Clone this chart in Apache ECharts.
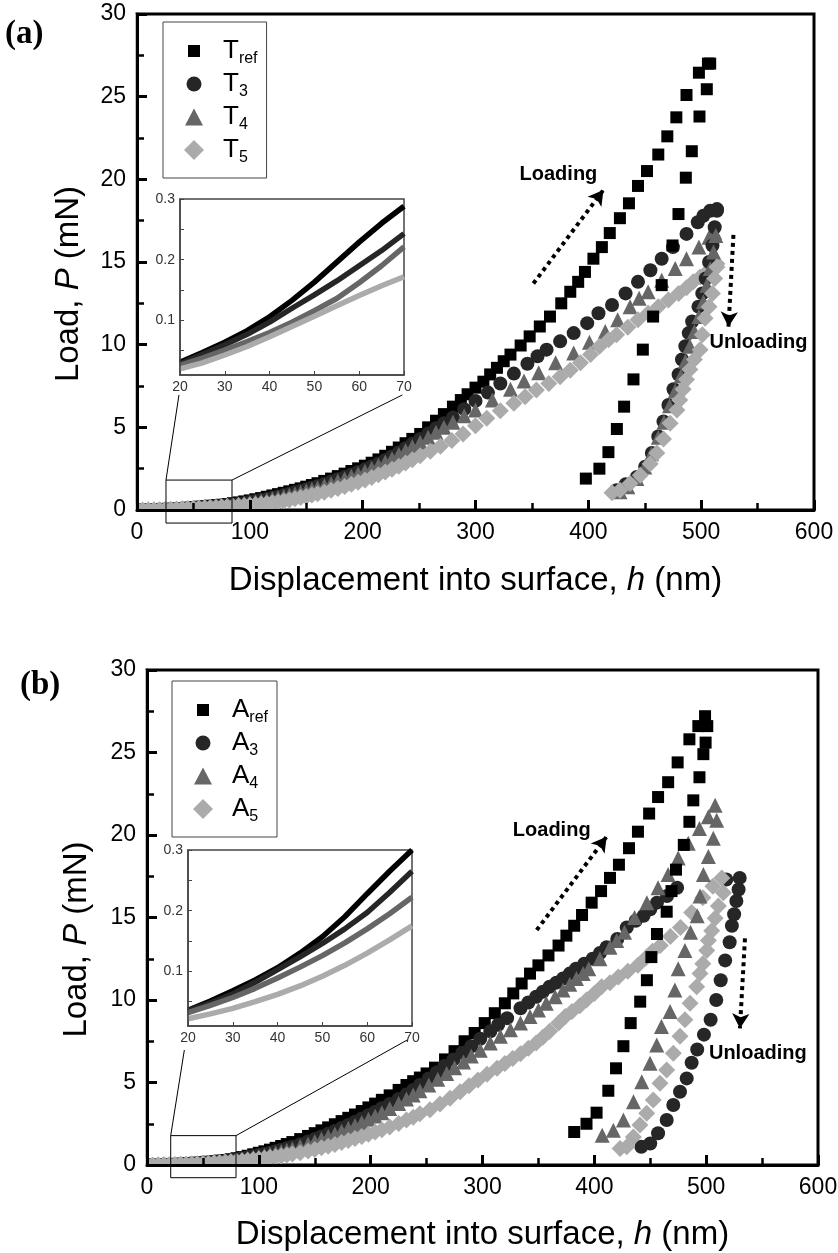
<!DOCTYPE html>
<html>
<head>
<meta charset="utf-8">
<script src="https://cdn.jsdelivr.net/npm/echarts@6/dist/echarts.min.js"></script>
<style>html,body{margin:0;padding:0;background:#fff}#c{width:838px;height:1253px}</style>
</head>
<body>
<div id="c"></div>
<script>
// ---------- Panel (a): T series, [h (nm), P (mN)] ----------
const tRefLoad = [[0,0],[5,0.006],[10,0.013],[15,0.021],[20,0.031],[25,0.047],[30,0.064],[35,0.082],[40,0.103],[45,0.133],[50,0.166],[55,0.2],[60,0.234],[65,0.262],[70,0.288],[75,0.32],[80,0.36],[85,0.41],[90,0.46],[95,0.52],[100,0.58],[105,0.65],[110,0.72],[115,0.8],[120,0.88],[125,0.96],[130,1.04],[135,1.13],[140,1.22],[145,1.31],[150,1.41],[155,1.51],[160,1.62],[166,1.76],[172,1.9],[178,2.05],[184,2.2],[190,2.36],[196,2.52],[202,2.68],[208,2.86],[214,3.06],[220,3.28],[226,3.52],[232,3.78],[238,4.04],[244,4.3],[251,4.6],[258,5.0],[265,5.4],[272,5.8],[280,6.25],[287,6.65],[293,7.0],[300,7.4],[307,7.76],[313,8.2],[319,8.6],[325,9.0],[331,9.4],[340,9.95],[348,10.5],[357,11.1],[366,11.7],[376,12.5],[384,13.2],[391,13.8],[397,14.4],[404.5,15.2],[412,15.9],[419,16.75],[428,17.65],[436,18.55],[444,19.6],[452,20.5],[462,21.5],[470,22.6],[478,23.75],[487,25.1],[498,26.45],[506,27.0]];
const tRefUnload = [[508,27.0],[505,25.45],[498.5,23.8],[491.7,21.7],[486.4,20.1],[479.9,17.9],[474.6,16.0],[465,13.6],[457.4,11.7],[448.3,9.7],[440,7.9],[431.7,6.25],[425.3,4.9],[417.8,3.5],[409.8,2.5],[397.8,1.9]];
const t3Load = [[0,0],[5,0.005],[10,0.011],[15,0.019],[20,0.028],[25,0.044],[30,0.06],[35,0.077],[40,0.097],[45,0.12],[50,0.142],[55,0.165],[60,0.19],[65,0.215],[70,0.243],[75,0.27],[80,0.3],[85,0.34],[90,0.38],[95,0.43],[100,0.48],[105,0.54],[110,0.6],[115,0.67],[120,0.74],[125,0.82],[130,0.9],[135,0.98],[140,1.07],[145,1.16],[150,1.25],[155,1.35],[160,1.45],[166,1.58],[172,1.72],[178,1.86],[184,2.0],[190,2.15],[196,2.3],[202,2.46],[208,2.63],[214,2.82],[220,3.02],[226,3.24],[232,3.48],[238,3.74],[244,4.0],[251,4.3],[258,4.62],[265,4.95],[272,5.25],[280,5.6],[290,6.1],[300,6.6],[311,7.1],[322,7.65],[334,8.25],[346,8.85],[355,9.3],[363,9.7],[375,10.2],[387,10.7],[399,11.3],[409,11.9],[421,12.4],[433,13.1],[444,13.8],[455,14.5],[465,15.2],[475,15.9],[487,16.7],[497,17.4],[502,17.8],[508,18.1],[514,18.2]];
const t3Unload = [[514,18.1],[512,17.1],[510,16.0],[507,15.0],[504,14.0],[501,13.1],[497.6,12.3],[492,11.4],[489,10.7],[486,9.9],[483,9.1],[480,8.2],[475.5,7.3],[471,6.35],[466.6,5.35],[462,4.45],[456.3,3.45],[450.4,2.62],[443,2.0],[433,1.55],[425,1.2]];
const t4Load = [[0,0],[5,0.005],[10,0.01],[15,0.017],[20,0.026],[25,0.038],[30,0.051],[35,0.065],[40,0.08],[45,0.097],[50,0.116],[55,0.136],[60,0.162],[65,0.19],[70,0.221],[75,0.25],[80,0.28],[85,0.32],[90,0.36],[95,0.4],[100,0.45],[105,0.5],[110,0.56],[115,0.62],[120,0.69],[125,0.76],[130,0.83],[135,0.91],[140,0.99],[145,1.07],[150,1.16],[155,1.25],[160,1.35],[166,1.48],[172,1.61],[178,1.75],[184,1.89],[190,2.04],[196,2.19],[202,2.35],[208,2.52],[214,2.7],[220,2.9],[226,3.12],[232,3.36],[238,3.6],[244,3.84],[251,4.1],[258,4.4],[265,4.7],[272,5.0],[280,5.3],[290,5.7],[300,6.05],[315,6.65],[331,7.3],[343,7.8],[356,8.3],[371,8.9],[387,9.5],[401,10.15],[415,10.8],[426,11.5],[437,12.3],[445,12.8],[453,13.2],[465,13.9],[477,14.6],[487,15.2],[498,15.9],[507,16.5],[512,16.8]];
const t4Unload = [[513,16.6],[511,15.6],[508,14.6],[505,13.6],[502,12.6],[498,11.7],[494,10.8],[490,9.9],[486,9.0],[482,8.1],[477,7.2],[472,6.3],[467,5.3],[462,4.4],[456,3.4],[450,2.6],[443,1.9],[435,1.4],[428,1.1]];
const t5Load = [[0,0],[5,0.004],[10,0.008],[15,0.013],[20,0.02],[25,0.03],[30,0.044],[35,0.058],[40,0.074],[45,0.092],[50,0.11],[55,0.126],[60,0.142],[65,0.157],[70,0.172],[75,0.19],[80,0.21],[85,0.23],[90,0.25],[95,0.275],[100,0.3],[105,0.33],[110,0.36],[115,0.4],[120,0.44],[125,0.49],[130,0.55],[135,0.61],[140,0.68],[145,0.75],[150,0.82],[155,0.9],[160,0.98],[166,1.08],[172,1.19],[178,1.3],[184,1.42],[190,1.55],[196,1.68],[202,1.82],[208,1.97],[214,2.13],[220,2.3],[226,2.47],[232,2.65],[238,2.84],[244,3.04],[251,3.28],[260,3.55],[269,3.85],[279,4.2],[289,4.6],[300,5.1],[310,5.55],[322,6.0],[334,6.45],[344,6.85],[354,7.26],[365,7.65],[375,8.06],[384,8.45],[393,8.9],[402,9.4],[410,9.9],[418,10.3],[425,10.6],[435,11.05],[444,11.5],[453,11.9],[462,12.3],[471,12.7],[480,13.1],[487,13.45],[493,13.8],[499,14.1],[505,14.4],[510,14.7],[514,14.9]];
const t5Unload = [[514,14.7],[512,14.0],[510,13.1],[507,12.3],[503.5,11.6],[501,10.6],[499,9.7],[494,9.1],[490,8.5],[487,7.9],[484,7.3],[481,6.65],[478.5,6.05],[472.5,5.25],[466.6,4.3],[460.7,3.45],[454.8,2.8],[446,2.1],[437,1.6],[428,1.2],[421,1.05]];

// ---------- Panel (b): A series ----------
const aRefLoad = [[0,0],[5,0.007],[10,0.015],[15,0.024],[20,0.036],[25,0.051],[30,0.068],[35,0.086],[40,0.106],[45,0.13],[50,0.157],[55,0.19],[60,0.228],[65,0.265],[70,0.3],[75,0.35],[80,0.41],[85,0.48],[90,0.56],[95,0.65],[100,0.74],[105,0.83],[110,0.93],[115,1.04],[120,1.15],[125,1.27],[130,1.39],[137,1.57],[144,1.76],[150,1.93],[156,2.1],[162,2.28],[168,2.47],[174,2.66],[180,2.86],[186,3.06],[192,3.27],[198,3.49],[204,3.72],[210,3.95],[217,4.22],[225,4.55],[232,4.85],[238,5.08],[244,5.3],[250,5.55],[257.5,5.9],[266.5,6.4],[275,6.9],[284,7.5],[293,8.0],[302,8.6],[311,9.2],[320,9.8],[327.5,10.4],[335,11.0],[342.5,11.6],[350,12.1],[359,12.7],[368,13.3],[375,13.9],[382,14.5],[389,15.15],[397.6,15.9],[406,16.6],[414,17.4],[422,18.2],[431,19.2],[439,20.2],[449,21.3],[457,22.3],[466,23.2],[474.5,24.4],[485,25.8],[493,26.6],[499,27.2]];
const aRefUnload = [[501,26.6],[499.5,25.6],[497.5,24.9],[494,23.5],[488.5,22.1],[485,20.8],[480,19.4],[473,17.9],[469,16.6],[464.7,15.35],[456,14.0],[451,12.6],[447,11.2],[441,9.9],[432.5,8.6],[426,7.2],[419.4,5.86],[412.5,4.5],[402,3.17],[393,2.5],[382,2.0]];
const a3Load = [[0,0],[5,0.006],[10,0.014],[15,0.023],[20,0.035],[25,0.048],[30,0.063],[35,0.082],[40,0.103],[45,0.124],[50,0.146],[55,0.17],[60,0.197],[65,0.23],[70,0.265],[75,0.31],[80,0.36],[85,0.41],[90,0.47],[95,0.53],[100,0.6],[105,0.67],[110,0.75],[115,0.83],[120,0.92],[125,1.01],[130,1.11],[137,1.26],[144,1.42],[150,1.57],[156,1.73],[162,1.89],[168,2.06],[174,2.24],[180,2.43],[186,2.62],[192,2.82],[198,3.02],[204,3.23],[210,3.44],[217,3.7],[225,4.0],[232,4.28],[238,4.55],[244,4.85],[252,5.25],[259,5.6],[266,6.0],[274,6.4],[282,6.8],[290,7.2],[298,7.65],[307,8.1],[314,8.5],[322,8.9],[334,9.5],[341,9.85],[348,10.2],[354,10.5],[360,10.8],[366,11.05],[372,11.3],[378,11.6],[383.6,11.9],[391,12.2],[398.5,12.5],[405,12.85],[411,13.2],[420.5,13.7],[429,14.4],[437,14.8],[444,15.1],[450,15.5],[456,15.9],[465,16.3],[474,16.8],[518,17.3],[530,17.4]];
const a3Unload = [[529,16.7],[527,16.0],[525,15.2],[523,14.5],[521,13.5],[517,12.4],[513,11.2],[509,10.0],[504,8.8],[498,7.9],[492,7.0],[487,6.2],[482.6,5.25],[476.6,4.44],[470.6,3.64],[464.7,2.73],[457,1.92],[450,1.3],[442,1.1]];
const a4Load = [[0,0],[5,0.006],[10,0.013],[15,0.021],[20,0.032],[25,0.044],[30,0.057],[35,0.072],[40,0.089],[45,0.107],[50,0.126],[55,0.147],[60,0.17],[65,0.195],[70,0.222],[75,0.26],[80,0.3],[85,0.35],[90,0.4],[95,0.46],[100,0.52],[105,0.59],[110,0.66],[115,0.74],[120,0.82],[125,0.9],[130,0.99],[137,1.13],[144,1.28],[150,1.42],[156,1.57],[162,1.72],[168,1.88],[174,2.05],[180,2.22],[186,2.4],[192,2.58],[198,2.77],[204,2.97],[210,3.17],[217,3.42],[225,3.72],[232,4.0],[238,4.25],[244,4.5],[252,4.85],[260,5.2],[268,5.55],[275,5.9],[283,6.25],[290,6.6],[298,6.95],[307,7.4],[316,7.8],[325,8.2],[334,8.6],[342.5,9.0],[350,9.4],[357,9.8],[365,10.2],[372,10.6],[378,10.95],[384,11.3],[390,11.6],[395,11.9],[405,12.5],[414,13.2],[420,13.6],[427,14.1],[436,15.0],[447,15.9],[457,16.8],[466,17.6],[475,18.6],[484,19.5],[494,20.4],[502,21.1],[508,21.8]];
const a4Unload = [[509.4,20.9],[506.4,19.8],[502,18.7],[497.5,17.6],[494.5,16.3],[492,15.1],[486,14.1],[481,13.0],[475,11.9],[472,10.6],[467.7,9.3],[460,8.4],[455.8,7.27],[449.8,6.16],[442.4,5.05],[435,3.84],[426,2.73],[417,2.1],[407,1.8]];
const a5Load = [[0,0],[5,0.004],[10,0.009],[15,0.015],[20,0.022],[25,0.03],[30,0.039],[35,0.05],[40,0.062],[45,0.076],[50,0.092],[55,0.11],[60,0.13],[65,0.152],[70,0.175],[75,0.2],[80,0.23],[85,0.26],[90,0.29],[95,0.33],[100,0.37],[105,0.41],[110,0.45],[115,0.5],[120,0.55],[125,0.6],[130,0.66],[137,0.75],[144,0.85],[150,0.94],[156,1.04],[162,1.14],[168,1.25],[174,1.36],[180,1.48],[186,1.6],[192,1.73],[198,1.86],[204,2.0],[210,2.14],[217,2.31],[225,2.52],[232,2.72],[238,2.9],[244,3.1],[253,3.35],[262,3.7],[271,4.05],[280,4.44],[288,4.8],[296,5.15],[304,5.5],[313,5.86],[320,6.15],[327,6.45],[334,6.75],[341,7.07],[348,7.4],[354,7.75],[360,8.1],[368,8.6],[374,9.0],[380,9.3],[387,9.65],[393,10.0],[400,10.4],[406.5,10.8],[414,11.05],[421.5,11.4],[430,11.75],[439,12.1],[446,12.55],[452,12.95],[459,13.3],[468,13.85],[477,14.4],[487,15.3],[497,16.2],[506,16.9],[514,17.4]];
const a5Unload = [[515.4,16.5],[511,15.7],[508,14.95],[505,14.2],[502,13.6],[500.5,13.0],[497,12.2],[494.5,11.6],[491.5,10.8],[485.6,9.8],[481,8.8],[476.6,7.8],[470.6,6.77],[464.7,5.76],[458.7,4.95],[452.7,3.94],[446.8,3.13],[440.8,2.42],[434.9,1.7],[429,1.1],[423,1.0]];

// ---------- Insets (h = 20..70 nm) ----------
const insetH   = [20,25,30,35,40,45,50,55,60,65,70];
const insetTRef = [0.031,0.047,0.064,0.083,0.106,0.133,0.163,0.196,0.229,0.26,0.288];
const insetT3   = [0.028,0.044,0.06,0.077,0.097,0.12,0.142,0.165,0.19,0.215,0.243];
const insetT4   = [0.026,0.038,0.051,0.065,0.08,0.097,0.116,0.136,0.162,0.19,0.221];
const insetT5   = [0.02,0.03,0.043,0.057,0.073,0.09,0.107,0.124,0.141,0.157,0.172];
const insetARef = [0.036,0.051,0.068,0.086,0.106,0.13,0.157,0.19,0.228,0.265,0.3];
const insetA3   = [0.035,0.048,0.063,0.082,0.103,0.124,0.146,0.17,0.197,0.23,0.265];
const insetA4   = [0.032,0.044,0.057,0.072,0.089,0.107,0.126,0.147,0.17,0.195,0.222];
const insetA5   = [0.022,0.03,0.039,0.05,0.062,0.076,0.092,0.11,0.13,0.152,0.175];

// ---------- Annotations (data coordinates of main plots) ----------
const zoomBoxA = [[25.7,1.81],[84.2,1.81],[84.2,-0.79],[25.7,-0.79],[25.7,1.81]];
const connA1 = [[25.7,1.81],[37.2,6.96]];
const connA2 = [[84.2,1.81],[235.2,6.96]];
const zoomBoxB = [[21.2,1.78],[79.6,1.78],[79.6,-0.77],[21.2,-0.77],[21.2,1.78]];
const connB1 = [[21.2,1.78],[33.4,6.97]];
const connB2 = [[79.6,1.78],[232.8,7.58]];
const arrowsA = [[[351.3,13.7],[413.4,19.36]],[[528.6,16.64],[524.2,11.09]]];
const arrowsB = [[[348.5,14.24],[411,19.9]],[[534.7,13.74],[530.2,8.28]]];
const textsA = [['Loading',373.5,20.3],['Unloading',550.8,10.12]];
const textsB = [['Loading',361.9,20.3],['Unloading',546.2,6.77]];

const insetYLabels = [0.1,0.2,0.3];
const insetYTicks = [0.05,0.1,0.15,0.2,0.25,0.3];

// ---------- styling ----------
const FONT = 'Liberation Sans';
const COL = {ref:'#000000', s3:'#262626', s4:'#666666', s5:'#ababab'};
const SYM = {ref:['rect',12], s3:['circle',14], s4:['triangle',15], s5:['diamond',17]};
const ICON = {
  ref:'path://M0,0M20,20M4,4L16,4L16,16L4,16Z',
  s3:'path://M0,0M20,20M17.5,10A7.5,7.5 0 1 1 2.5,10A7.5,7.5 0 1 1 17.5,10Z',
  s4:'path://M0,0M20,20M10,1.5L19,18.5L1,18.5Z',
  s5:'path://M0,0M20,20M10,0L20,10L10,20L0,10Z'
};

const chart = echarts.init(document.getElementById('c'), null, {renderer:'canvas'});

function sc(name, data, key, ax, z) {
  return {type:'scatter', name, data, symbol:SYM[key][0], symbolSize:SYM[key][1],
    xAxisIndex:ax, yAxisIndex:ax, itemStyle:{color:COL[key], opacity:1}, z, silent:true,
    emphasis:{disabled:true}, animation:false};
}
function insetLine(name, vals, key, ax) {
  return {type:'line', name, data: insetH.map((h,i)=>[h, vals[i]]), xAxisIndex:ax, yAxisIndex:ax,
    symbol:'none', lineStyle:{width:5.5, color:COL[key]}, z:2, silent:true, animation:false};
}
function thinLine(name, data, ax) {
  return {type:'line', name, data, xAxisIndex:ax, yAxisIndex:ax, symbol:'none', clip:false,
    lineStyle:{width:1, color:'#000'}, z:6, silent:true, animation:false};
}
function annotations(arrows, texts) {
  return {
    markLine:{silent:true, symbol:['none','arrow'], symbolSize:[13,15], animation:false,
      lineStyle:{type:'dotted', width:4, color:'#000'}, label:{show:false},
      data: arrows.map(a=>[{coord:a[0]},{coord:a[1]}])},
    markPoint:{silent:true, animation:false, symbol:'rect', symbolSize:1, itemStyle:{color:'rgba(0,0,0,0)'},
      label:{show:true, position:'inside', formatter:'{b}', color:'#000', fontFamily:FONT, fontWeight:'bold', fontSize:20},
      data: texts.map(t=>({name:t[0], coord:[t[1],t[2]]}))}
  };
}

function mainX(gi, nameGap) {
  return {gridIndex:gi, type:'value', min:0, max:600, interval:100, z:10,
    axisLine:{show:true, onZero:false, lineStyle:{color:'#000', width:3}},
    axisTick:{show:true, inside:true, length:10, lineStyle:{width:3, color:'#000'}},
    minorTick:{show:true, splitNumber:2, length:7, lineStyle:{width:2.5, color:'#000'}},
    splitLine:{show:false}, minorSplitLine:{show:false},
    axisLabel:{fontSize:23, color:'#000', fontFamily:FONT, margin:11, formatter:v=>String(v)},
    name:'{n|Displacement into surface, }{i|h}{n| (nm)}', nameLocation:'middle', nameGap,
    nameTextStyle:{fontSize:33, color:'#000', fontFamily:FONT,
      rich:{n:{fontSize:33, fontFamily:FONT, color:'#000'}, i:{fontSize:33, fontFamily:FONT, fontStyle:'italic', color:'#000'}}}
  };
}
function mainY(gi, nameGap) {
  return {gridIndex:gi, type:'value', min:0, max:30, interval:5, z:10,
    axisLine:{show:true, onZero:false, lineStyle:{color:'#000', width:3}},
    axisTick:{show:true, inside:true, length:10, lineStyle:{width:3, color:'#000'}},
    minorTick:{show:true, splitNumber:2, length:7, lineStyle:{width:2.5, color:'#000'}},
    splitLine:{show:false}, minorSplitLine:{show:false},
    axisLabel:{fontSize:23, color:'#000', fontFamily:FONT, margin:11},
    name:'{n|Load, }{i|P}{n| (mN)}', nameLocation:'middle', nameRotate:90, nameGap,
    nameTextStyle:{fontSize:33, color:'#000', fontFamily:FONT, padding:[0,44,0,0],
      rich:{n:{fontSize:33, fontFamily:FONT, color:'#000'}, i:{fontSize:33, fontFamily:FONT, fontStyle:'italic', color:'#000'}}}
  };
}
function insetX(gi) {
  return {gridIndex:gi, type:'value', min:20, max:70, interval:10, z:10,
    axisLine:{show:true, onZero:false, lineStyle:{color:'#444', width:1.5}},
    axisTick:{show:true, inside:true, length:4, lineStyle:{width:1, color:'#444'}},
    splitLine:{show:false},
    axisLabel:{fontSize:14, color:'#333', fontFamily:FONT, margin:5}};
}
function insetY(gi) {
  return {gridIndex:gi, type:'value', min:0.01, max:0.3, z:10,
    axisLine:{show:true, onZero:false, lineStyle:{color:'#444', width:1.5}},
    axisTick:{show:true, inside:true, length:4, lineStyle:{width:1, color:'#444'}, customValues:insetYTicks},
    splitLine:{show:false},
    axisLabel:{fontSize:14, color:'#333', fontFamily:FONT, margin:5, customValues:insetYLabels, formatter:v=>v.toFixed(1)}};
}
function legend(left, top, letter) {
  const names = [letter+'_ref', letter+'_3', letter+'_4', letter+'_5'];
  const keys = ['ref','s3','s4','s5'];
  return {left, top, orient:'vertical', selectedMode:false, itemWidth:20, itemHeight:20, itemGap:4,
    padding:[16,9,12,21], borderColor:'#444', borderWidth:1, backgroundColor:'#fff',
    data: names.map((n,i)=>({name:n, icon:ICON[keys[i]], itemStyle:{color:COL[keys[i]]}})),
    formatter: n => '{m|' + letter + '}{s|' + n.split('_')[1] + '}',
    textStyle:{fontFamily:FONT, color:'#000',
      rich:{m:{fontSize:26, fontFamily:FONT, color:'#000', lineHeight:32, padding:[0,0,0,14]},
            s:{fontSize:16, fontFamily:FONT, color:'#000', lineHeight:5, verticalAlign:'bottom'}}}
  };
}

const series = [
  sc('T_ref', tRefLoad, 'ref', 0, 2), sc('T_3', t3Load, 's3', 0, 2), sc('T_4', t4Load, 's4', 0, 2), sc('T_5', t5Load, 's5', 0, 2),
  Object.assign(sc('T_ref', tRefUnload, 'ref', 0, 3), annotations(arrowsA, textsA)),
  sc('T_3', t3Unload, 's3', 0, 3), sc('T_4', t4Unload, 's4', 0, 3), sc('T_5', t5Unload, 's5', 0, 3),
  insetLine('T_ref inset', insetTRef, 'ref', 1), insetLine('T_3 inset', insetT3, 's3', 1),
  insetLine('T_4 inset', insetT4, 's4', 1), insetLine('T_5 inset', insetT5, 's5', 1),
  thinLine('boxA', zoomBoxA, 0), thinLine('connA1', connA1, 0), thinLine('connA2', connA2, 0),
  sc('A_ref', aRefLoad, 'ref', 2, 2), sc('A_3', a3Load, 's3', 2, 2), sc('A_4', a4Load, 's4', 2, 2), sc('A_5', a5Load, 's5', 2, 2),
  Object.assign(sc('A_ref', aRefUnload, 'ref', 2, 3), annotations(arrowsB, textsB)),
  sc('A_3', a3Unload, 's3', 2, 3), sc('A_4', a4Unload, 's4', 2, 3), sc('A_5', a5Unload, 's5', 2, 3),
  insetLine('A_ref inset', insetARef, 'ref', 3), insetLine('A_3 inset', insetA3, 's3', 3),
  insetLine('A_4 inset', insetA4, 's4', 3), insetLine('A_5 inset', insetA5, 's5', 3),
  thinLine('boxB', zoomBoxB, 2), thinLine('connB1', connB1, 2), thinLine('connB2', connB2, 2)
];

const GA = {left:137, top:14, width:677, height:496};
const GB = {left:147, top:670, width:671, height:495};

chart.setOption({
  animation:false,
  backgroundColor:'#fff',
  title:[
    {text:'(a)', left:0, top:13, padding:5, textStyle:{fontFamily:'Liberation Serif', fontWeight:'bold', fontSize:33, color:'#000'}},
    {text:'(b)', left:15, top:664, padding:5, textStyle:{fontFamily:'Liberation Serif', fontWeight:'bold', fontSize:33, color:'#000'}}
  ],
  legend:[legend(163, 22, 'T'), legend(172, 681, 'A')],
  grid:[
    Object.assign({show:true, borderColor:'#000', borderWidth:3, backgroundColor:'transparent', outerBoundsMode:'none', containLabel:false}, GA),
    {left:180, top:199, width:224, height:176, show:true, borderColor:'#444', borderWidth:1.5, backgroundColor:'#fff', outerBoundsMode:'none', containLabel:false},
    Object.assign({show:true, borderColor:'#000', borderWidth:3, backgroundColor:'transparent', outerBoundsMode:'none', containLabel:false}, GB),
    {left:188, top:850, width:224, height:176, show:true, borderColor:'#444', borderWidth:1.5, backgroundColor:'#fff', outerBoundsMode:'none', containLabel:false}
  ],
  xAxis:[mainX(0,54), insetX(1), mainX(2,53), insetX(3)],
  yAxis:[mainY(0,52), insetY(1), mainY(2,54), insetY(3)],
  graphic:{elements:[
    {type:'rect', silent:true, z:4, shape:{x:GA.left-10, y:GA.top+GA.height+1.5, width:GA.width+12, height:8}, style:{fill:'#fff'}},
    {type:'rect', silent:true, z:4, shape:{x:GA.left-10, y:GA.top, width:8.5, height:GA.height+10}, style:{fill:'#fff'}},
    {type:'rect', silent:true, z:4, shape:{x:GB.left-10, y:GB.top+GB.height+1.5, width:GB.width+12, height:8}, style:{fill:'#fff'}},
    {type:'rect', silent:true, z:4, shape:{x:GB.left-10, y:GB.top, width:8.5, height:GB.height+10}, style:{fill:'#fff'}}
  ]},
  series
});
</script>
</body>
</html>
